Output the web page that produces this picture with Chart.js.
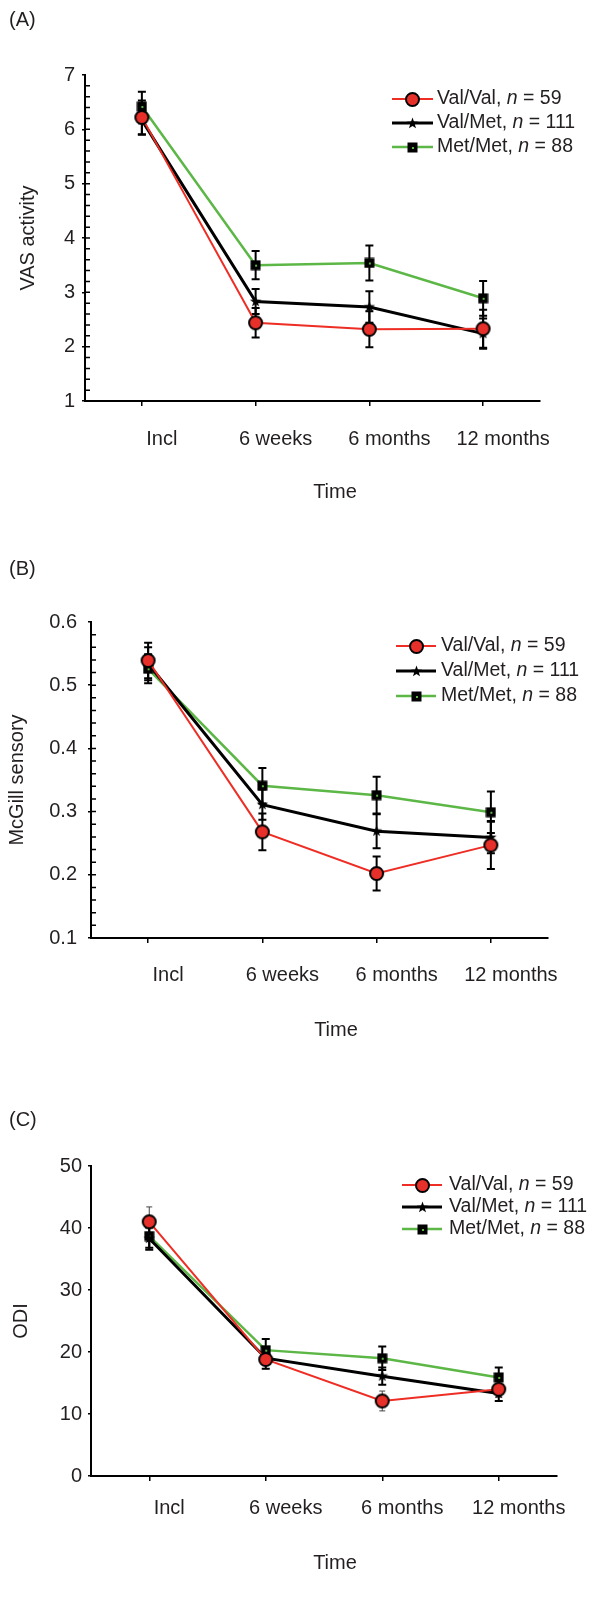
<!DOCTYPE html>
<html>
<head>
<meta charset="utf-8">
<script src="https://cdn.jsdelivr.net/npm/chart.js@4.4.0/dist/chart.umd.min.js"></script>
<style>
    body { margin: 0; background: #fff; width: 604px; height: 1613px; position: relative; overflow: hidden; }
    canvas { position: absolute; left: 0; }
</style>
</head>
<body>
<canvas id="chartA" width="604" height="520" style="top:0"></canvas>
<canvas id="chartB" width="604" height="520" style="top:520px"></canvas>
<canvas id="chartC" width="604" height="573" style="top:1040px"></canvas>
<script>
// categories and groups
const categories = ['Incl', '6 weeks', '6 months', '12 months'];
const seriesNames = ['Val/Val', 'Val/Met', 'Met/Met'];
const seriesN = [59, 111, 88];

// (A) VAS activity: means and error bar half-lengths
const vasValVal = [6.22, 2.44, 2.32, 2.33];
const vasValMet = [6.17, 2.83, 2.73, 2.24];
const vasMetMet = [6.42, 3.50, 3.54, 2.89];
const vasErrValVal = [0.31, 0.27, 0.33, 0.35];
const vasErrValMet = [0.27, 0.23, 0.29, 0.28];
const vasErrMetMet = [0.27, 0.26, 0.32, 0.32];
const vasTicks = [1, 2, 3, 4, 5, 6, 7];

// (B) McGill sensory
const mcgValVal = [0.539, 0.268, 0.202, 0.247];
const mcgValMet = [0.534, 0.311, 0.269, 0.259];
const mcgMetMet = [0.526, 0.341, 0.326, 0.299];
const mcgErrValVal = [0.028, 0.029, 0.027, 0.038];
const mcgErrValMet = [0.026, 0.024, 0.027, 0.025];
const mcgErrMetMet = [0.023, 0.028, 0.029, 0.033];
const mcgTicks = [0.1, 0.2, 0.3, 0.4, 0.5, 0.6];

// (C) ODI
const odiValVal = [41.0, 18.8, 12.1, 14.0];
const odiValMet = [38.3, 19.0, 16.1, 13.3];
const odiMetMet = [38.7, 20.3, 19.0, 15.9];
const odiErrValVal = [2.4, 1.5, 1.6, 1.3];
const odiErrValMet = [1.8, 1.7, 1.4, 1.2];
const odiErrMetMet = [1.9, 1.8, 1.9, 1.6];
const odiTicks = [0, 10, 20, 30, 40, 50];

const fontFamily = '"Liberation Sans", Arial, Helvetica, sans-serif';
const textColor = '#231f20';
const lineColors = ['#ee2d24', '#000000', '#5cb746'];
const lineWidths = [2, 3, 2.5];

function makeMarker(kind) {
    const c = document.createElement('canvas');
    if (kind === 'circle') {
        c.width = c.height = 17;
        const ctx = c.getContext('2d');
        ctx.beginPath();
        ctx.arc(8.5, 8.5, 6.5, 0, Math.PI * 2);
        ctx.fillStyle = '#e8302a';
        ctx.fill();
        ctx.lineWidth = 2;
        ctx.strokeStyle = '#000';
        ctx.stroke();
    } else if (kind === 'star') {
        c.width = c.height = 13;
        const ctx = c.getContext('2d');
        ctx.beginPath();
        for (let k = 0; k < 10; k++) {
            const r = k % 2 ? 2.4 : 6;
            const a = -Math.PI / 2 + k * Math.PI / 5;
            ctx.lineTo(6.5 + r * Math.cos(a), 6.5 + r * Math.sin(a));
        }
        ctx.closePath();
        ctx.fillStyle = '#000';
        ctx.fill();
    } else {
        c.width = c.height = 11;
        const ctx = c.getContext('2d');
        ctx.fillStyle = '#000';
        ctx.fillRect(0.5, 0.5, 10, 10);
        ctx.fillStyle = '#5cb746';
        ctx.fillRect(5, 5, 2, 2);
    }
    return c;
}
const markers = [makeMarker('circle'), makeMarker('star'), makeMarker('square')];

// error bars drawn behind lines, from the y scale
const errorBars = {
    id: 'errorBars',
    beforeDatasetsDraw(chart, args, o) {
        const ctx = chart.ctx;
        const yS = chart.scales.y;
        ctx.save();
        chart.data.datasets.forEach((ds, i) => {
            const meta = chart.getDatasetMeta(i);
            ctx.strokeStyle = o.colors[i];
            ctx.lineWidth = o.widths[i];
            const cap = o.caps[i];
            meta.data.forEach((pt, j) => {
                const top = yS.getPixelForValue(ds.data[j] + ds.errors[j]);
                const bot = yS.getPixelForValue(ds.data[j] - ds.errors[j]);
                ctx.beginPath();
                ctx.moveTo(pt.x, top); ctx.lineTo(pt.x, bot);
                ctx.moveTo(pt.x - cap, top); ctx.lineTo(pt.x + cap, top);
                ctx.moveTo(pt.x - cap, bot); ctx.lineTo(pt.x + cap, bot);
                ctx.stroke();
            });
        });
        ctx.restore();
    }
};

// small minor ticks on the inner side of the y axis
const innerTicks = {
    id: 'innerTicks',
    afterDraw(chart, args, o) {
        if (!o.step) return;
        const ctx = chart.ctx;
        const yS = chart.scales.y;
        const x0 = chart.chartArea.left;
        const n = Math.round((yS.max - yS.min) / o.step);
        ctx.save();
        ctx.strokeStyle = '#000';
        ctx.lineWidth = 1.5;
        ctx.beginPath();
        for (let k = 1; k < n; k++) {
            const y = yS.getPixelForValue(yS.min + k * o.step);
            ctx.moveTo(x0, y);
            ctx.lineTo(x0 + 5, y);
        }
        ctx.stroke();
        ctx.restore();
    }
};

// panel tag, x title and legend
const panelText = {
    id: 'panelText',
    afterDraw(chart, args, o) {
        const ctx = chart.ctx;
        ctx.save();
        ctx.fillStyle = textColor;
        ctx.textBaseline = 'middle';
        ctx.font = '20px ' + fontFamily;
        ctx.textAlign = 'left';
        ctx.fillText(o.tag, 9, o.tagY);
        ctx.textAlign = 'center';
        ctx.fillText('Time', o.timeX, o.timeY);
        ctx.textAlign = 'left';
        chart.data.datasets.forEach((ds, i) => {
            const y = o.rows[i];
            ctx.strokeStyle = ds.borderColor;
            ctx.lineWidth = ds.borderWidth;
            ctx.beginPath();
            ctx.moveTo(o.lineX[0], y);
            ctx.lineTo(o.lineX[1], y);
            ctx.stroke();
            const img = ds.pointStyle;
            ctx.drawImage(img, Math.round((o.lineX[0] + o.lineX[1]) / 2 - img.width / 2), Math.round(y - img.height / 2));
            let x = o.textX;
            const parts = [[ds.label + ', ', ''], ['n', 'italic '], [' = ' + seriesN[i], '']];
            parts.forEach(([t, st]) => {
                ctx.font = st + '19.5px ' + fontFamily;
                ctx.fillText(t, x, y);
                x += ctx.measureText(t).width;
            });
        });
        ctx.restore();
    }
};

function makeChart(p) {
    const canvas = document.getElementById(p.id);
    const W = canvas.width, H = canvas.height;
    const font = { family: fontFamily, size: 20 };
    return new Chart(canvas, {
        type: 'line',
        data: {
            labels: categories,
            datasets: seriesNames.map((name, i) => ({
                label: name,
                data: p.values[i],
                errors: p.errors[i],
                borderColor: lineColors[i],
                borderWidth: lineWidths[i],
                pointStyle: markers[i],
                pointRadius: 6,
                pointHoverRadius: 6,
                tension: 0,
                fill: false
            }))
        },
        options: {
            responsive: false,
            animation: false,
            layout: { padding: { left: 0, top: p.area.top, right: W - p.area.right, bottom: 0 } },
            plugins: {
                legend: { display: false },
                tooltip: { enabled: false },
                errorBars: p.errStyle,
                innerTicks: { step: p.minor },
                panelText: p.text
            },
            scales: {
                x: {
                    type: 'category',
                    offset: true,
                    afterFit: s => { s.height = H - p.area.bottom; },
                    grid: { drawOnChartArea: false, drawTicks: true, tickLength: 5, color: '#000', lineWidth: 1.5 },
                    border: { color: '#000', width: 2 },
                    ticks: { font: font, color: textColor, padding: p.xPad, labelOffset: 20, maxRotation: 0, autoSkip: false }
                },
                y: {
                    min: p.ticks[0],
                    max: p.ticks[p.ticks.length - 1],
                    afterFit: s => { s.width = p.area.left; },
                    afterBuildTicks: s => { s.ticks = p.ticks.map(v => ({ value: v })); },
                    grid: { drawOnChartArea: false, drawTicks: true, tickLength: 3, color: '#000', lineWidth: 1.5 },
                    border: { color: '#000', width: 2 },
                    ticks: { font: font, color: textColor, padding: p.yPad, callback: v => Number(v).toFixed(p.decimals) },
                    title: { display: true, text: p.yTitle, font: font, color: textColor, padding: { top: p.yTitlePad, bottom: 0 } }
                }
            }
        },
        plugins: [errorBars, innerTicks, panelText]
    });
}

const blackErr = { colors: ['#000', '#000', '#000'], widths: [2, 2, 2], caps: [4, 4, 4] };

makeChart({
    id: 'chartA', yTitle: 'VAS activity',
    values: [vasValVal, vasValMet, vasMetMet],
    errors: [vasErrValVal, vasErrValMet, vasErrMetMet],
    ticks: vasTicks, decimals: 0, minor: 0.2,
    area: { left: 85, right: 540, top: 75, bottom: 401 },
    xPad: 21, yPad: 7, yTitlePad: 16,
    errStyle: blackErr,
    text: { tag: '(A)', tagY: 20, timeX: 335, timeY: 492, rows: [99, 123, 147], lineX: [392, 433], textX: 437 }
});

makeChart({
    id: 'chartB', yTitle: 'McGill sensory',
    values: [mcgValVal, mcgValMet, mcgMetMet],
    errors: [mcgErrValVal, mcgErrValMet, mcgErrMetMet],
    ticks: mcgTicks, decimals: 1, minor: 0.02,
    area: { left: 91, right: 548, top: 102, bottom: 418 },
    xPad: 20, yPad: 11, yTitlePad: 5,
    errStyle: blackErr,
    text: { tag: '(B)', tagY: 49, timeX: 336, timeY: 510, rows: [126, 151, 176], lineX: [396, 436], textX: 441 }
});

makeChart({
    id: 'chartC', yTitle: 'ODI',
    values: [odiValVal, odiValMet, odiMetMet],
    errors: [odiErrValVal, odiErrValMet, odiErrMetMet],
    ticks: odiTicks, decimals: 0, minor: 0,
    area: { left: 91, right: 557, top: 126, bottom: 436 },
    xPad: 15, yPad: 6, yTitlePad: 9,
    errStyle: { colors: ['#444', '#000', '#000'], widths: [1, 2, 2], caps: [3, 4, 4] },
    text: { tag: '(C)', tagY: 80, timeX: 335, timeY: 523, rows: [145, 167, 189], lineX: [402, 442], textX: 449 }
});
</script>
</body>
</html>
